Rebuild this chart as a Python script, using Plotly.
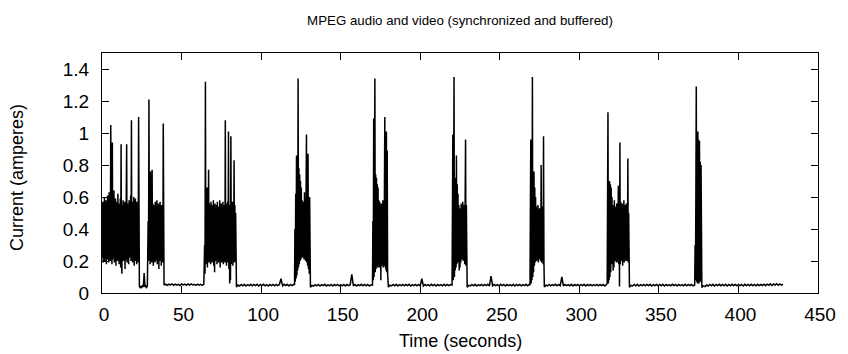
import plotly.graph_objects as go

# Each segment: first sample time (s), last sample time (s), evenly sampled values (A)
burst1_t0, burst1_t1 = 0.0, 23.0
burst1_current = [0.50, 0.22, 0.57, 0.19, 0.54, 0.25, 0.60, 0.20, 0.55, 0.23,
                  0.58, 0.18, 0.53, 0.26, 0.61, 0.21, 0.56, 0.19, 0.63, 0.24,
                  0.57, 0.20, 1.05, 0.22, 0.60, 0.18, 0.94, 0.21, 0.58, 0.24,
                  0.64, 0.19, 0.55, 0.22, 0.59, 0.17, 0.53, 0.25, 0.57, 0.20,
                  0.62, 0.23, 0.56, 0.18, 0.54, 0.21, 0.59, 0.16, 0.93, 0.19,
                  0.12, 0.55, 0.22, 0.58, 0.20, 0.53, 0.24, 0.57, 0.15, 0.54,
                  0.21, 0.60, 0.93, 0.19, 0.56, 0.23, 0.52, 0.18, 0.58, 0.22,
                  0.55, 0.25, 0.61, 0.20, 1.08, 0.21, 0.57, 0.19, 0.54, 0.24,
                  0.60, 0.17, 0.56, 0.22, 0.59, 0.20, 0.53, 0.18, 0.57, 0.23,
                  0.55, 0.19, 1.10]

gap_t0, gap_t1 = 23.5, 28.5
gap_current = [0.040, 0.034, 0.044, 0.036, 0.045, 0.038, 0.125, 0.037, 0.044,
               0.035, 0.043]

burst2_t0, burst2_t1 = 29.0, 38.5
burst2_current = [0.45, 0.20, 1.21, 0.22, 0.58, 0.18, 0.76, 0.21, 0.60, 0.19,
                  0.77, 0.23, 0.56, 0.17, 0.55, 0.22, 0.52, 0.19, 0.57, 0.20,
                  0.54, 0.24, 0.58, 0.18, 0.53, 0.21, 0.56, 0.15, 0.52, 0.20,
                  0.57, 0.22, 0.54, 0.17, 0.55, 0.21, 0.52, 0.19, 1.06]

idle1_t0, idle1_t1 = 39.0, 64.0
idle1_current = [0.050, 0.056, 0.048, 0.055, 0.051, 0.057, 0.048, 0.055, 0.049,
                 0.054, 0.047, 0.056, 0.050, 0.055, 0.048, 0.056, 0.049, 0.057,
                 0.050, 0.054, 0.048, 0.055, 0.049, 0.054, 0.048, 0.056]

burst3_t0, burst3_t1 = 64.5, 84.0
burst3_current = [0.30, 0.12, 1.32, 0.18, 0.60, 0.20, 0.66, 0.16, 0.58, 0.21,
                  0.77, 0.19, 0.56, 0.23, 0.54, 0.18, 0.57, 0.22, 0.52, 0.19,
                  0.55, 0.24, 0.58, 0.17, 0.53, 0.13, 0.56, 0.20, 0.52, 0.22,
                  0.55, 0.18, 0.57, 0.23, 0.51, 0.19, 0.54, 0.21, 0.58, 0.16,
                  0.53, 0.22, 0.56, 0.19, 0.52, 0.24, 0.57, 0.18, 0.54, 0.21,
                  0.55, 0.19, 1.08, 0.20, 0.56, 0.17, 0.53, 0.22, 0.57, 0.19,
                  1.01, 0.15, 0.52, 0.06, 0.55, 0.08, 0.98, 0.18, 0.54, 0.21,
                  0.57, 0.17, 0.53, 0.22, 0.83, 0.19, 0.55, 0.20, 0.50]

idle2_t0, idle2_t1 = 84.5, 120.5
idle2_current = [0.038, 0.050, 0.044, 0.053, 0.045, 0.054, 0.044, 0.052, 0.046,
                 0.054, 0.045, 0.053, 0.046, 0.054, 0.044, 0.053, 0.046, 0.054,
                 0.045, 0.052, 0.044, 0.053, 0.046, 0.054, 0.045, 0.053, 0.046,
                 0.053, 0.090, 0.045, 0.054, 0.046, 0.054, 0.044, 0.053, 0.046,
                 0.054]

burst4_t0, burst4_t1 = 121.0, 130.5
burst4_current = [0.05, 0.40, 0.07, 0.62, 0.09, 0.86, 0.11, 0.72, 0.14, 1.34,
                  0.16, 0.78, 0.18, 0.74, 0.20, 0.70, 0.21, 0.66, 0.23, 0.58,
                  0.22, 0.55, 0.24, 0.57, 0.21, 0.63, 0.22, 0.56, 0.20, 0.58,
                  0.99, 0.19, 0.55, 0.17, 0.87, 0.15, 0.57, 0.12, 0.60]

idle3_t0, idle3_t1 = 131.0, 169.0
idle3_current = [0.036, 0.048, 0.043, 0.052, 0.045, 0.053, 0.044, 0.052, 0.046,
                 0.054, 0.044, 0.052, 0.045, 0.053, 0.044, 0.053, 0.046, 0.054,
                 0.045, 0.052, 0.045, 0.053, 0.044, 0.053, 0.046, 0.052, 0.117,
                 0.045, 0.053, 0.044, 0.052, 0.046, 0.054, 0.045, 0.053, 0.045,
                 0.053, 0.044, 0.052]

burst5_t0, burst5_t1 = 170.0, 179.5
burst5_current = [0.05, 0.45, 0.08, 1.09, 0.10, 0.70, 1.34, 0.13, 0.74, 0.15,
                  0.72, 0.17, 0.68, 0.16, 0.66, 0.18, 0.58, 0.16, 0.57, 0.19,
                  0.55, 0.08, 0.56, 0.17, 0.53, 0.18, 0.58, 0.16, 0.55, 0.17,
                  0.60, 1.10, 0.16, 0.57, 0.14, 1.01, 0.13, 0.89, 0.12]

idle4_t0, idle4_t1 = 180.0, 219.0
idle4_current = [0.037, 0.049, 0.044, 0.053, 0.045, 0.054, 0.044, 0.052, 0.046,
                 0.053, 0.045, 0.053, 0.046, 0.054, 0.044, 0.052, 0.046, 0.053,
                 0.045, 0.053, 0.045, 0.090, 0.044, 0.053, 0.046, 0.052, 0.045,
                 0.054, 0.046, 0.053, 0.044, 0.053, 0.046, 0.052, 0.045, 0.054,
                 0.045, 0.053, 0.046, 0.053]

burst6_t0, burst6_t1 = 220.0, 229.0
burst6_current = [0.05, 0.50, 0.99, 0.08, 0.62, 1.35, 0.10, 0.72, 0.14, 0.70,
                  0.16, 0.86, 0.18, 0.68, 0.19, 0.62, 0.20, 0.55, 0.14, 0.53,
                  0.16, 0.52, 0.19, 0.56, 0.21, 0.54, 0.22, 0.57, 0.20, 0.53,
                  0.21, 0.55, 0.18, 0.58, 0.96, 0.17, 0.55]

idle5_t0, idle5_t1 = 229.5, 268.5
idle5_current = [0.036, 0.048, 0.044, 0.053, 0.045, 0.054, 0.044, 0.052, 0.046,
                 0.053, 0.045, 0.053, 0.046, 0.054, 0.044, 0.105, 0.045, 0.053,
                 0.046, 0.052, 0.045, 0.054, 0.046, 0.053, 0.044, 0.053, 0.046,
                 0.052, 0.045, 0.054, 0.044, 0.053, 0.046, 0.053, 0.045, 0.052,
                 0.046, 0.054, 0.045, 0.053]

burst7_t0, burst7_t1 = 269.0, 277.75
burst7_current = [0.05, 0.55, 0.96, 0.06, 0.70, 0.08, 1.35, 0.10, 0.72, 0.13,
                  0.76, 0.17, 0.66, 0.19, 0.60, 0.21, 0.54, 0.20, 0.52, 0.22,
                  0.55, 0.19, 0.51, 0.21, 0.53, 0.22, 0.50, 0.20, 0.80, 0.19,
                  0.54, 0.21, 0.52, 0.18, 0.98, 0.20]

idle6_t0, idle6_t1 = 278.0, 317.0
idle6_current = [0.037, 0.049, 0.044, 0.053, 0.045, 0.052, 0.046, 0.054, 0.045,
                 0.053, 0.046, 0.100, 0.044, 0.053, 0.046, 0.052, 0.045, 0.054,
                 0.044, 0.053, 0.046, 0.053, 0.045, 0.052, 0.046, 0.054, 0.044,
                 0.053, 0.046, 0.053, 0.045, 0.052, 0.046, 0.054, 0.045, 0.053,
                 0.046, 0.053, 0.044, 0.052]

burst8_t0, burst8_t1 = 317.5, 331.0
burst8_current = [0.06, 0.60, 1.13, 0.06, 0.66, 0.08, 0.70, 0.10, 0.68, 0.13,
                  0.66, 0.18, 0.60, 0.20, 0.55, 0.14, 0.53, 0.16, 0.58, 0.21,
                  0.54, 0.20, 0.53, 0.19, 0.56, 0.22, 0.55, 0.19, 0.67, 0.18,
                  0.57, 0.04, 0.94, 0.18, 0.57, 0.20, 0.54, 0.21, 0.56, 0.17,
                  0.53, 0.22, 0.58, 0.19, 0.55, 0.22, 0.52, 0.20, 0.56, 0.21,
                  0.53, 0.20, 0.84, 0.19, 0.50]

idle7_t0, idle7_t1 = 331.5, 371.5
idle7_current = [0.036, 0.048, 0.044, 0.053, 0.045, 0.054, 0.044, 0.052, 0.046,
                 0.053, 0.045, 0.053, 0.046, 0.054, 0.044, 0.052, 0.046, 0.053,
                 0.045, 0.053, 0.045, 0.054, 0.044, 0.053, 0.046, 0.052, 0.045,
                 0.054, 0.046, 0.053, 0.044, 0.053, 0.046, 0.052, 0.045, 0.054,
                 0.045, 0.053, 0.046, 0.053, 0.045]

burst9_t0, burst9_t1 = 372.5, 376.5
burst9_current = [0.05, 0.30, 0.08, 0.62, 1.29, 0.07, 0.98, 0.06, 1.01, 0.07,
                  0.96, 0.06, 0.95, 0.08, 0.82, 0.07, 0.80]

idle8_t0, idle8_t1 = 377.0, 428.0
idle8_current = [0.035, 0.045, 0.040, 0.050, 0.044, 0.053, 0.045, 0.054, 0.044,
                 0.053, 0.046, 0.054, 0.045, 0.053, 0.046, 0.054, 0.044, 0.053,
                 0.045, 0.054, 0.046, 0.053, 0.045, 0.054, 0.046, 0.053, 0.044,
                 0.054, 0.046, 0.053, 0.045, 0.054, 0.046, 0.053, 0.045, 0.054,
                 0.046, 0.053, 0.047, 0.055, 0.046, 0.055, 0.048, 0.057, 0.047,
                 0.056, 0.049, 0.058, 0.048, 0.056, 0.049, 0.055]

x_tick_values = [0, 50, 100, 150, 200, 250, 300, 350, 400, 450]
y_tick_values = [0, 0.2, 0.4, 0.6, 0.8, 1.0, 1.2, 1.4]

title_text = "MPEG audio and video (synchronized and buffered)"
x_label = "Time (seconds)"
y_label = "Current (amperes)"

segments = [
    (burst1_t0, burst1_t1, burst1_current),
    (gap_t0, gap_t1, gap_current),
    (burst2_t0, burst2_t1, burst2_current),
    (idle1_t0, idle1_t1, idle1_current),
    (burst3_t0, burst3_t1, burst3_current),
    (idle2_t0, idle2_t1, idle2_current),
    (burst4_t0, burst4_t1, burst4_current),
    (idle3_t0, idle3_t1, idle3_current),
    (burst5_t0, burst5_t1, burst5_current),
    (idle4_t0, idle4_t1, idle4_current),
    (burst6_t0, burst6_t1, burst6_current),
    (idle5_t0, idle5_t1, idle5_current),
    (burst7_t0, burst7_t1, burst7_current),
    (idle6_t0, idle6_t1, idle6_current),
    (burst8_t0, burst8_t1, burst8_current),
    (idle7_t0, idle7_t1, idle7_current),
    (burst9_t0, burst9_t1, burst9_current),
    (idle8_t0, idle8_t1, idle8_current),
]

# sample times: each segment's values are evenly spaced between its first and last time
times, current = [], []
for t0, t1, vals in segments:
    n = len(vals)
    for i, v in enumerate(vals):
        times.append(t0 + (t1 - t0) * i / (n - 1))
        current.append(v)

FONT = "Liberation Sans, Arial, Helvetica, sans-serif"

fig = go.Figure(go.Scatter(
    x=times, y=current, mode="lines",
    line=dict(color="black", width=1.5, simplify=False),
    hoverinfo="skip", showlegend=False,
))

axis_common = dict(
    showline=True, linecolor="black", linewidth=1, mirror="allticks",
    ticks="inside", ticklen=7, tickwidth=1, tickcolor="black",
    showgrid=False, zeroline=False,
    tickfont=dict(family=FONT, size=19, color="black"),
)

fig.update_layout(
    width=848, height=354,
    margin=dict(l=102, r=21, t=53, b=61),
    paper_bgcolor="white", plot_bgcolor="white",
    showlegend=False,
    title=dict(text=title_text, x=0.5, xref="paper", xanchor="center",
               y=1 - 20 / 354, yref="container", yanchor="middle",
               font=dict(family=FONT, size=13.3, color="black")),
    xaxis=dict(range=[0, 450], tickvals=x_tick_values, ticklabelstandoff=4,
               ticklabelshift=2, **axis_common),
    yaxis=dict(range=[0, 1.5], tickvals=y_tick_values, ticklabelstandoff=8,
               **axis_common),
    annotations=[
        dict(text=x_label, xref="paper", yref="paper", x=0.5, y=-48 / 240,
             xanchor="center", yanchor="middle", showarrow=False,
             font=dict(family=FONT, size=18, color="black")),
        dict(text=y_label, xref="paper", yref="paper", x=-86 / 725,
             y=1 - 125 / 240, xanchor="center", yanchor="middle",
             showarrow=False, textangle=-90,
             font=dict(family=FONT, size=18, color="black")),
    ],
)

fig.write_html("out.html")
